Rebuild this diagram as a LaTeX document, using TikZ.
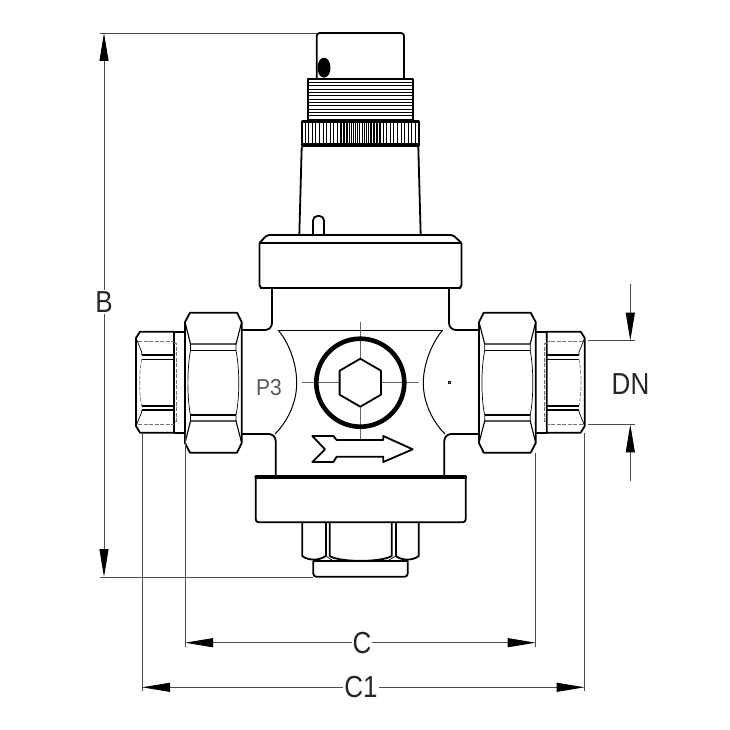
\documentclass[tikz,border=0pt]{standalone}
\usepackage{fontspec}
\setmainfont{Liberation Sans}
\usetikzlibrary{arrows.meta}

\tikzset{
	outline/.style={line width=1.8pt, line join=round},
	heavy/.style={line width=3.2pt},
	fine/.style={line width=0.7pt},
	hidden/.style={line width=0.7pt, dashed, dash pattern=on 4pt off 1.5pt, black!55},
	axis/.style={line width=0.7pt, black!60},
	dimline/.style={line width=0.9pt, black!70},
	dimarrow/.style={dimline, {Triangle[length=28pt,width=9pt,black]}-{Triangle[length=28pt,width=9pt,black]}},
	dimtip/.style={dimline, -{Triangle[length=28pt,width=9pt,black]}},
	dimlabel/.style={fill=white, inner sep=1pt, text=black!85, font=\fontsize{26}{26}\selectfont, yscale=1.17, transform shape},
	union/.pic={
		% Big nut
		\draw[outline] (190,312.7) -- (237,312.7) -- (241.7,322) -- (241.7,443) -- (237,452.7)
			-- (190,452.7) -- (185,443) -- (185,322) -- cycle;
		\draw[fine, line width=1.1pt] (185,322) -- (190.5,344) -- (236,344) -- (241.7,322);
		\draw[fine, line width=1.1pt] (190.5,350.7) -- (236,350.7);
		\draw[fine, line width=1.1pt] (185,443) -- (190.5,421) -- (236,421) -- (241.7,443);
		\draw[fine, line width=1.1pt] (190.5,415) -- (236,415);
		\draw[fine] (190.5,344) -- (190.5,350.7) .. controls (187,368) and (187,398) .. (190.5,415) -- (190.5,421);
		\draw[fine] (236,344) -- (236,350.7) .. controls (239.7,368) and (239.7,398) .. (236,415) -- (236,421);
		% Small nut
		\draw[outline] (140,331.7) -- (174,331.7) -- (174,432.7) -- (140,432.7) -- (136,426) -- (136,338) -- cycle;
		\draw[outline] (174,331.7) -- (185,331.7);
		\draw[outline] (174,432.7) -- (185,432.7);
		\draw[fine] (136,338) -- (141.7,352) -- (141.7,355);
		\draw[fine] (136,426) -- (141.7,412) -- (141.7,410);
		\draw[fine, line width=1.1pt] (141.7,355) -- (174,355);
		\draw[fine, line width=1.1pt] (141.7,359.3) -- (174,359.3);
		\draw[fine, line width=1.1pt] (141.7,406) -- (174,406);
		\draw[fine, line width=1.1pt] (141.7,410) -- (174,410);
		\draw[hidden] (138,341) -- (174,341);
		\draw[hidden] (138,424) -- (174,424);
		\draw[hidden] (174,343.3) -- (176,343.3) -- (176,421) -- (174,421);
		\draw[hidden] (141.7,359.3) .. controls (139,372) and (139,393) .. (141.7,406);
	}
}

\begin{document}
\begin{tikzpicture}[x=1pt, y=-1pt]
	\useasboundingbox (0,0) rectangle (730,730);

	% Knob
	\draw[outline, rounded corners=3pt] (316.7,79) -- (316.7,33) -- (404,33) -- (404,79);
	\fill (324,67.7) ellipse (6.5 and 10);
	\draw[outline] (308,79) rectangle (412.7,120);
	\foreach \y in {82.5,85.8,...,118}
		\draw[fine] (308,\y) -- (412.7,\y);

	% Knurled ring
	\draw[outline] (302,122) -- (302,144);
	\draw[outline] (418.7,122) -- (418.7,144);
	\foreach \x in {305,308.6,...,339,383,386.6,...,417}
		\draw[fine] (\x,122) -- (\x,144);
	\foreach \x in {340,341.5,...,350,370,371.5,...,381}
		\draw[fine, line width=1pt] (\x,122) -- (\x,144);
	\foreach \x in {351,353.2,...,369}
		\draw[fine] (\x,122) -- (\x,144);
	\draw[heavy, line cap=round] (302.5,121.5) -- (418.5,121.5);
	\draw[heavy, line cap=round] (302.5,145) -- (418.5,145);

	% Column with pin
	\draw[outline] (301.7,147) -- (299.3,235);
	\draw[outline] (418.3,147) -- (420.7,235);
	\draw[outline, rounded corners=4.5pt] (313,235) -- (313,216) -- (324,216) -- (324,235);

	% Upper cap
	\draw[outline, rounded corners=2pt] (259.5,243) -- (267,235) -- (453,235) -- (461.5,243);
	\draw[outline] (259.5,243) -- (461.5,243);
	\draw[outline, rounded corners=3pt] (259.5,243) -- (259.5,288) -- (461.5,288) -- (461.5,243);
	\draw[line width=2.6pt] (260,288) -- (461,288);

	% Valve body
	\draw[outline, rounded corners=7pt] (272,288) -- (272,330) -- (241.7,330);
	\draw[outline, rounded corners=7pt] (241.7,434) -- (275.7,434) -- (275.7,476);
	\draw[outline, rounded corners=7pt] (449,288) -- (449,330) -- (479,330);
	\draw[outline, rounded corners=7pt] (479,434) -- (444.3,434) -- (444.3,476);
	\draw[fine, line width=1pt] (278,330) -- (442.7,330);
	\draw[fine, line width=1pt] (278,330) .. controls (290,344) and (296.7,365) .. (296.7,383)
		.. controls (296.7,402) and (288,421) .. (275,434);
	\draw[fine, line width=1pt] (442.7,330) .. controls (431,344) and (423.3,365) .. (423.3,383)
		.. controls (423.3,402) and (432,421) .. (445,434);

	% Socket
	\draw[axis] (301.7,382.7) -- (419.3,382.7);
	\draw[axis] (360,322) -- (360,440);
	\draw[line width=4.6pt] (360.3,382.7) circle (44);
	\draw[outline, fill=white] (360.3,358.7) -- (381,370.7) -- (381,394.7) -- (360.3,406.7)
		-- (339.6,394.7) -- (339.6,370.7) -- cycle;
	\draw[fine] (448.5,381.7) rectangle (450.5,383.7);
	\node[text=black!65, font=\fontsize{21}{21}\selectfont, yscale=1.1, transform shape] (p3) at (269,387.5) {P3};

	% Flow arrow
	\draw[outline, fill=white] (312.3,436) -- (333.3,436) -- (336.7,440) -- (383.3,440) -- (383.3,436)
		-- (412.7,449.3) -- (383.3,462) -- (383.3,456.7) -- (336.7,456.7) -- (333.3,462) -- (312.3,462)
		-- (325,449.3) -- cycle;

	% Unions
	\pic at (0,0) {union};
	\pic[xscale=-1] at (720.7,0) {union};

	% Lower cap
	\draw[outline, rounded corners=3pt] (255.7,477) -- (255.7,522.3) -- (465.7,522.3) -- (465.7,477);
	\draw[heavy, line cap=round] (256,477) -- (465.4,477);

	% Lower nut
	\draw[outline] (302.3,522.3) -- (302.3,556) .. controls (307,560) and (318,561.5) .. (325.7,556);
	\draw[outline] (418.7,522.3) -- (418.7,556) .. controls (414,560) and (403,561.5) .. (395.7,556);
	\draw[outline] (325.7,522.3) -- (325.7,556);
	\draw[outline] (395.7,522.3) -- (395.7,556);
	\draw[outline] (329.7,522.3) -- (329.7,556) .. controls (340,562.5) and (381,562.5) .. (391.7,556) -- (391.7,522.3);
	\draw[fine] (325.7,556) -- (333,560.7);
	\draw[fine] (395.7,556) -- (388,560.7);
	\draw[outline, rounded corners=3pt] (313.3,560.7) -- (313.3,576.7) -- (407.7,576.7) -- (407.7,560.7);
	\draw[outline] (313.3,560.7) -- (407.7,560.7);

	% Dimension points
	\coordinate (bTop) at (104,33);
	\coordinate (bBottom) at (104,577);
	\coordinate (bTopFoot) at (317,33);
	\coordinate (bBottomFoot) at (313,577);
	\coordinate (bTopEnd) at (100,33);
	\coordinate (bBottomEnd) at (100,577);
	\coordinate (cLeft) at (185,642.7);
	\coordinate (cRight) at (535.7,642.7);
	\coordinate (cLeftFoot) at (185,433);
	\coordinate (cRightFoot) at (535.7,453);
	\coordinate (cLeftEnd) at (185,646.7);
	\coordinate (cRightEnd) at (535.7,646.7);
	\coordinate (coneLeft) at (142,687.3);
	\coordinate (coneRight) at (584.7,687.3);
	\coordinate (coneLeftFoot) at (142,433);
	\coordinate (coneRightFoot) at (584.7,433);
	\coordinate (coneLeftEnd) at (142,690.7);
	\coordinate (coneRightEnd) at (584.7,690.7);
	\coordinate (dnTop) at (630.3,340.7);
	\coordinate (dnBottom) at (630.3,424.3);
	\coordinate (dnTopFree) at (630.3,284);
	\coordinate (dnBottomFree) at (630.3,480.7);
	\coordinate (dnTopFoot) at (588,340.7);
	\coordinate (dnBottomFoot) at (588,424.3);
	\coordinate (dnTopEnd) at (635,340.7);
	\coordinate (dnBottomEnd) at (635,424.3);

	% Extension lines
	\draw[dimline] (bTopEnd) -- (bTopFoot);
	\draw[dimline] (bBottomEnd) -- (bBottomFoot);
	\draw[dimline] (cLeftFoot) -- (cLeftEnd);
	\draw[dimline] (cRightFoot) -- (cRightEnd);
	\draw[dimline] (coneLeftFoot) -- (coneLeftEnd);
	\draw[dimline] (coneRightFoot) -- (coneRightEnd);
	\draw[dimline] (dnTopFoot) -- (dnTopEnd);
	\draw[dimline] (dnBottomFoot) -- (dnBottomEnd);

	% Dimensions
	\draw[dimarrow] (bTop) -- (bBottom);
	\node[dimlabel] (bLabel) at (104,302) {B};
	\draw[dimarrow] (cLeft) -- (cRight);
	\node[dimlabel] (cLabel) at (362,642.7) {C};
	\draw[dimarrow] (coneLeft) -- (coneRight);
	\node[dimlabel] (coneLabel) at (361,687.3) {C1};
	\draw[dimtip] (dnTopFree) -- (dnTop);
	\draw[dimtip] (dnBottomFree) -- (dnBottom);
	\node[dimlabel] (dnLabel) at (630.5,384) {DN};
\end{tikzpicture}
\end{document}
